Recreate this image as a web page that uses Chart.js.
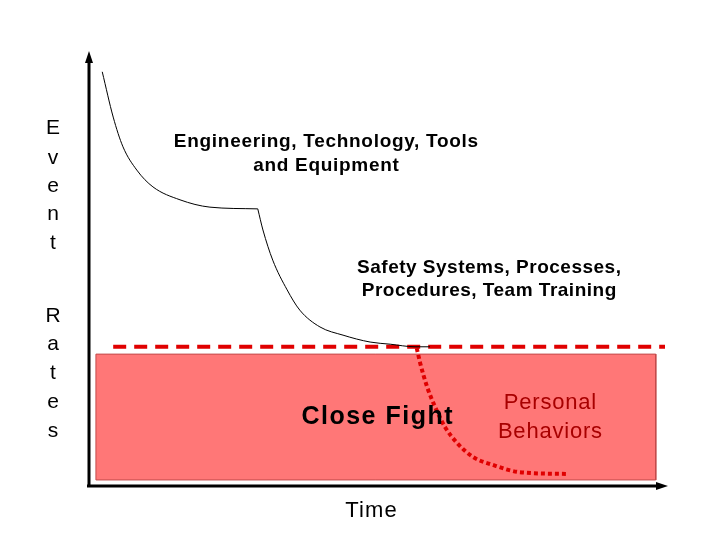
<!DOCTYPE html>
<html>
<head>
<meta charset="utf-8">
<script src="https://cdn.jsdelivr.net/npm/chart.js@4"></script>
<style>
  html, body { margin: 0; padding: 0; background: #fff; }
  #wrap { width: 720px; height: 540px; }
</style>
</head>
<body>
<div id="wrap"><canvas id="chart" width="720" height="540"></canvas></div>
<script>
// time (0-100) vs event rate (0-100)
const techX = [2.3, 4.2, 5.9, 8.3, 11.1, 15.8, 21.0, 29.3];
const techY = [96.1, 85.6, 78.7, 73.3, 69.4, 66.4, 64.7, 64.3];
const systemsX = [29.3, 30.2, 31.9, 34.4, 36.6, 40.1, 44.1, 48.8, 52.3, 56.6, 59.2];
const systemsY = [64.3, 59.4, 52.4, 45.5, 40.8, 36.9, 35.0, 33.4, 32.9, 32.3, 32.3];
const behaviorX = [56.9, 57.5, 58.7, 60.1, 61.8, 63.9, 66.7, 70.1, 74.8, 83.0];
const behaviorY = [32.0, 28.5, 23.0, 18.3, 13.7, 10.0, 6.7, 4.9, 3.2, 2.8];
const limitX = [4.2, 100];
const limitY = [32.3, 32.3];
const zoneX = [1.2, 98.4];
const zoneTop = 30.6;
const zoneBottom = 1.4;

const pts = (xs, ys) => xs.map((x, i) => ({ x: x, y: ys[i] }));

const ctx = document.getElementById('chart');

const decor = {
    id: 'decor',
    beforeDatasetsDraw(chart) {
        const c = chart.ctx, a = chart.chartArea;
        c.save();
        c.strokeStyle = '#000';
        c.fillStyle = '#000';
        c.lineWidth = 3;
        c.beginPath();
        c.moveTo(a.left, a.bottom);
        c.lineTo(a.left, a.top + 6);
        c.moveTo(a.left - 2, a.bottom);
        c.lineTo(a.right - 6, a.bottom);
        c.stroke();
        // arrow heads
        c.beginPath();
        c.moveTo(a.left, a.top - 4);
        c.lineTo(a.left - 4, a.top + 8);
        c.lineTo(a.left + 4, a.top + 8);
        c.closePath();
        c.fill();
        c.beginPath();
        c.moveTo(a.right + 3, a.bottom);
        c.lineTo(a.right - 9, a.bottom - 4);
        c.lineTo(a.right - 9, a.bottom + 4);
        c.closePath();
        c.fill();
        c.restore();
    },
    afterDatasetsDraw(chart) {
        const c = chart.ctx;
        c.save();
        c.textAlign = 'center';
        c.textBaseline = 'middle';
        const txt = (s, x, y, font, spacing, color) => {
            c.font = font;
            c.letterSpacing = spacing + 'px';
            c.fillStyle = color || '#000';
            c.fillText(s, x + spacing / 2, y);
        };
        const side = 'normal 21px "Liberation Sans", Arial, sans-serif';
        'Event'.split('').forEach((ch, i) => txt(ch, 53, [128, 158, 186, 214, 243][i], side, 0));
        'Rates'.split('').forEach((ch, i) => txt(ch, 53, [316, 344, 373, 402, 431][i], side, 0));
        const b19 = 'bold 19px "Liberation Sans", Arial, sans-serif';
        txt('Engineering, Technology, Tools', 326, 142, b19, 0.7);
        txt('and Equipment', 326, 166, b19, 0.7);
        txt('Safety Systems, Processes,', 489, 268, b19, 0.5);
        txt('Procedures, Team Training', 489, 291, b19, 0.5);
        txt('Close Fight', 377, 417, 'bold 25px "Liberation Sans", Arial, sans-serif', 1.5);
        const pb = 'normal 22px "Liberation Sans", Arial, sans-serif';
        txt('Personal', 550, 403, pb, 0.8, '#a80000');
        txt('Behaviors', 550, 432, pb, 0.8, '#a80000');
        txt('Time', 371, 511, 'normal 22px "Liberation Sans", Arial, sans-serif', 1.2);
        c.restore();
    }
};

var chart = new Chart(ctx, {
    type: 'line',
    data: {
        datasets: [{
            label: 'Personal Behaviors zone',
            data: pts(zoneX, [zoneTop, zoneTop]),
            fill: { value: zoneBottom },
            backgroundColor: '#ff7777',
            borderWidth: 0,
            pointRadius: 0,
            order: 5
        }, {
            label: 'zone border',
            data: pts([zoneX[0], zoneX[0], zoneX[1], zoneX[1], zoneX[0]],
                      [zoneBottom, zoneTop, zoneTop, zoneBottom, zoneBottom]),
            borderColor: '#c24a4a',
            borderWidth: 1,
            pointRadius: 0,
            fill: false,
            order: 4
        }, {
            label: 'limit',
            data: pts(limitX, limitY),
            borderColor: '#e00000',
            borderWidth: 4,
            borderDash: [13, 8],
            pointRadius: 0,
            fill: false,
            order: 3
        }, {
            label: 'Engineering, Technology, Tools and Equipment',
            data: pts(techX, techY),
            borderColor: '#000',
            borderWidth: 1,
            cubicInterpolationMode: 'monotone',
            pointRadius: 0,
            fill: false,
            order: 2
        }, {
            label: 'Safety Systems, Processes, Procedures, Team Training',
            data: pts(systemsX, systemsY),
            borderColor: '#000',
            borderWidth: 1,
            cubicInterpolationMode: 'monotone',
            pointRadius: 0,
            fill: false,
            order: 2
        }, {
            label: 'Personal Behaviors',
            data: pts(behaviorX, behaviorY),
            borderColor: '#e00000',
            borderWidth: 4,
            borderDash: [4, 3],
            cubicInterpolationMode: 'monotone',
            pointRadius: 0,
            fill: false,
            order: 1
        }]
    },
    options: {
        responsive: false,
        animation: false,
        layout: { padding: { left: 89, right: 55, top: 55, bottom: 54 } },
        plugins: {
            legend: { display: false },
            tooltip: { enabled: false }
        },
        scales: {
            x: { type: 'linear', min: 0, max: 100, display: false },
            y: { type: 'linear', min: 0, max: 100, display: false }
        }
    },
    plugins: [decor]
});
</script>
</body>
</html>
